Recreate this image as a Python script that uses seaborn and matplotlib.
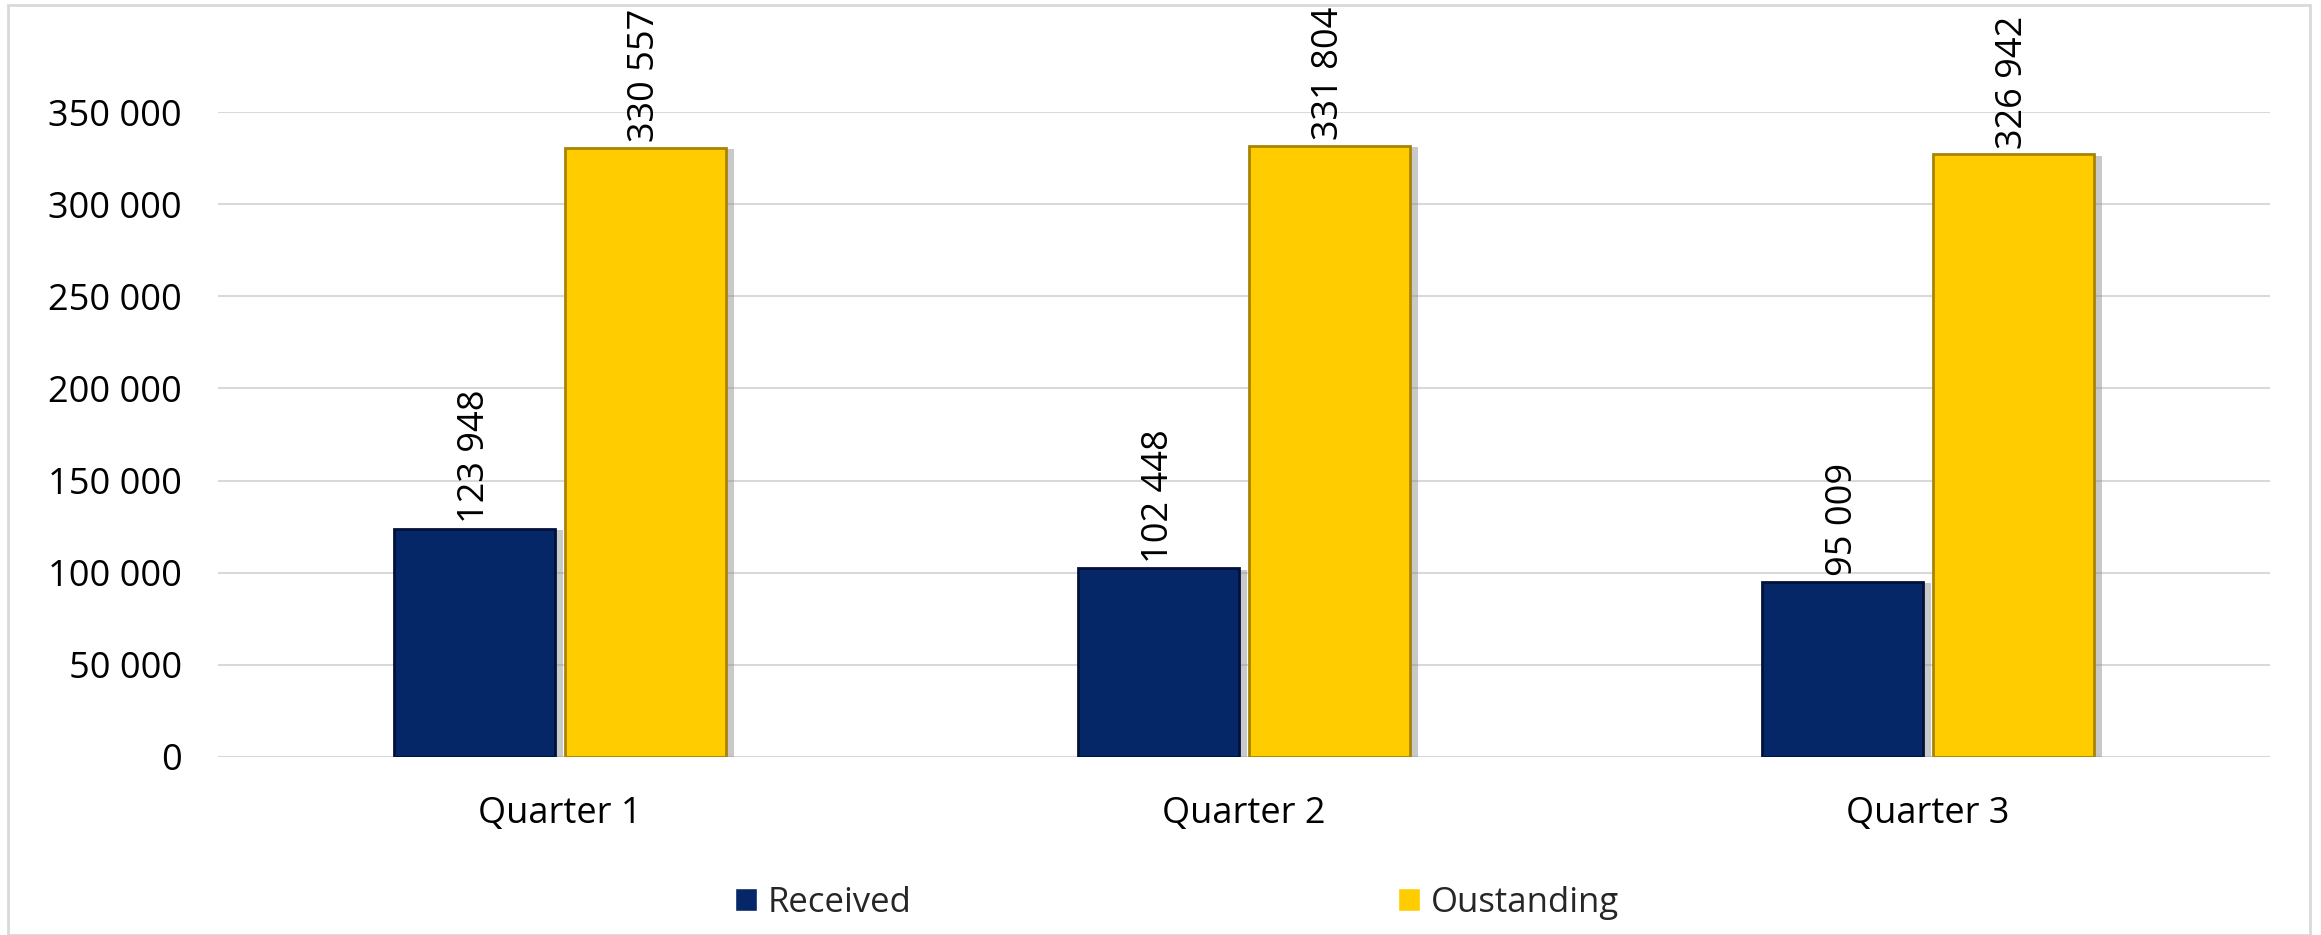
import pandas as pd
import matplotlib
matplotlib.use("Agg")
import matplotlib.pyplot as plt
import matplotlib.patheffects as pe
from matplotlib.patches import Rectangle
from matplotlib.ticker import FuncFormatter, MultipleLocator
import seaborn as sns

# chart data
quarters = ["Quarter 1", "Quarter 2", "Quarter 3"]
received = [123948, 102448, 95009]
outstanding = [330557, 331804, 326942]
series_names = ["Received", "Oustanding"]
colors = ["#052768", "#FFCC00"]

df = pd.DataFrame({
    "quarter": quarters * 2,
    "value": received + outstanding,
    "series": [series_names[0]] * 3 + [series_names[1]] * 3,
})

sns.set_theme(style="whitegrid")
plt.rcParams["font.family"] = ["Open Sans", "DejaVu Sans"]

def spaced(v, pos=None):
    return f"{v:,.0f}".replace(",", " ")

fig = plt.figure(figsize=(23.21, 9.35), dpi=100)
ax = fig.add_axes([218 / 2321, 1 - 757 / 935, (2270 - 218) / 2321, (757 - 112) / 935])

sns.barplot(data=df, x="quarter", y="value", hue="series", palette=colors,
            width=0.5, gap=0.064, saturation=1, ax=ax)

edge_cols = ["#01123a", "#a88400"]
for cont, ec in zip(ax.containers, edge_cols):
    for bar in cont:
        bar.set_edgecolor(ec)
        bar.set_linewidth(2)
        bar.set_path_effects([
            pe.SimplePatchShadow(offset=(6, -1), shadow_rgbFace="#888888", alpha=0.45),
            pe.Normal(),
        ])
    ax.bar_label(cont, labels=[spaced(b.get_height()) for b in cont],
                 rotation=90, padding=4, fontsize=26, color="black")

ax.set_ylim(0, 350000)
ax.yaxis.set_major_locator(MultipleLocator(50000))
ax.yaxis.set_major_formatter(FuncFormatter(spaced))
ax.grid(axis="y", color="#d9d9d9", linewidth=1.5)
ax.grid(axis="x", visible=False)
ax.set_axisbelow(True)
for s in ax.spines.values():
    s.set_visible(False)
ax.set_xlabel("")
ax.set_ylabel("")
ax.tick_params(axis="y", labelsize=26, pad=26, length=0, labelcolor="black")
ax.tick_params(axis="x", labelsize=26, pad=28, length=0, labelcolor="black")

handles, labels = ax.get_legend_handles_labels()
ax.get_legend().remove()
fig.legend(handles, labels, loc="center", bbox_to_anchor=(1177 / 2321, 1 - 903 / 935),
           ncol=2, frameon=False, fontsize=25, handlelength=0.65, handleheight=0.65,
           handletextpad=0.3, columnspacing=14)

# light frame around the chart area
fig.add_artist(Rectangle((8 / 2321, 0), (2310 - 8) / 2321, 1 - 5 / 935,
                         transform=fig.transFigure, fill=False,
                         edgecolor="#d9d9d9", linewidth=2))

fig.savefig("out.png", dpi=100, facecolor="white")
